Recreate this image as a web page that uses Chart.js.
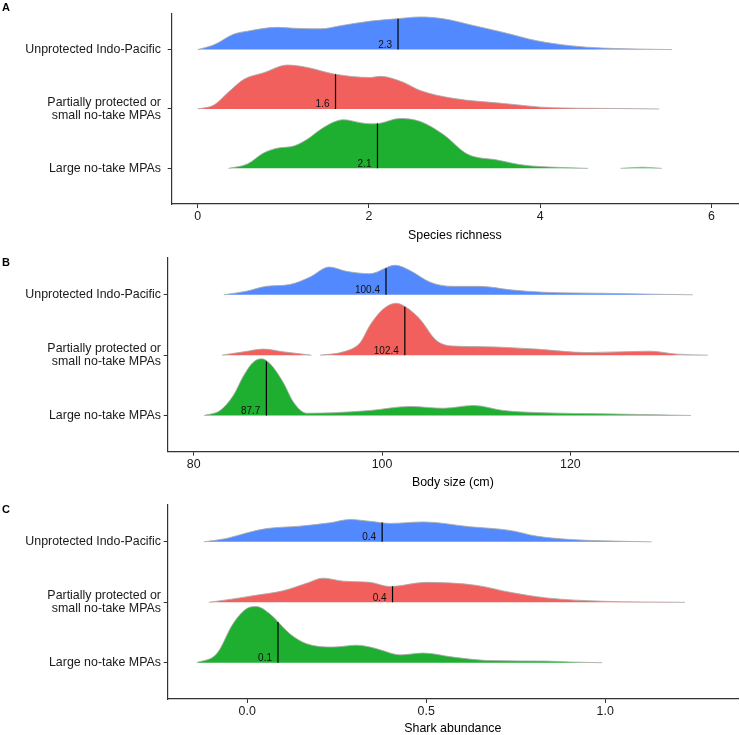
<!DOCTYPE html>
<html lang="en">
<head>
    <meta charset="UTF-8">
    <title>Shark ridgelines</title>
    <script src="https://cdn.jsdelivr.net/npm/chart.js"></script>
    <style>
        body { margin: 0; background: #fff; }
        #wrap { position: relative; width: 740px; height: 735px; overflow: hidden; }
        .panel { position: absolute; left: 0; }
        .tag { position: absolute; left: 2px; font: bold 11px/11px "Liberation Sans", Arial, sans-serif; color: #000; }
    </style>
</head>
<body>
<div id="wrap">
    <canvas id="chartA" class="panel" width="740" height="245" style="top:0px"></canvas>
    <canvas id="chartB" class="panel" width="740" height="245" style="top:245px"></canvas>
    <canvas id="chartC" class="panel" width="740" height="245" style="top:490px"></canvas>
    <div class="tag" style="top:2px">A</div>
    <div class="tag" style="top:257px">B</div>
    <div class="tag" style="top:504px">C</div>
</div>

<script>
// groups, top ridge first
const groups = [['Unprotected Indo-Pacific'], ['Partially protected or', 'small no-take MPAs'], ['Large no-take MPAs']];
const fills = ['#5289FF', '#F2605E', '#1EAF30'];

// A: species richness (x, ridge height in row units; null = gap)
const richX_unprot = [0, 0.19, 0.42, 0.58, 0.93, 1.12, 1.43, 1.70, 2.02, 2.33, 2.60, 2.87, 3.18, 3.57, 3.96, 4.35, 4.73, 5.13, 5.54];
const richH_unprot = [0, 0.08, 0.26, 0.31, 0.375, 0.36, 0.35, 0.41, 0.48, 0.52, 0.55, 0.52, 0.42, 0.29, 0.15, 0.066, 0.026, 0.01, 0];
const richX_part = [0, 0.19, 0.38, 0.54, 0.77, 1.05, 1.28, 1.59, 2.02, 2.13, 2.40, 2.60, 2.98, 3.57, 4.15, 4.73, 5.39];
const richH_part = [0, 0.066, 0.31, 0.50, 0.61, 0.74, 0.70, 0.59, 0.53, 0.55, 0.45, 0.31, 0.18, 0.094, 0.02, 0.01, 0];
const richX_large = [0.36, 0.58, 0.77, 0.93, 1.12, 1.28, 1.43, 1.59, 1.70, 1.90, 2.02, 2.13, 2.36, 2.60, 2.87, 3.15, 3.50, 3.80, 4.20, 4.56, 4.75, 4.94, 5.19, 5.42];
const richH_large = [0, 0.073, 0.26, 0.34, 0.375, 0.49, 0.65, 0.78, 0.82, 0.77, 0.75, 0.76, 0.84, 0.79, 0.57, 0.24, 0.14, 0.056, 0.017, 0, null, 0, 0.02, 0];
const richMedians = [2.34, 1.61, 2.10];
const richTicks = [0, 2, 4, 6];

// B: body size (cm)
const bodyX_unprot = [83.2, 85.6, 87.7, 90.2, 92.3, 94.4, 96.2, 98.7, 101.4, 103.0, 105.1, 107.5, 110.4, 113.6, 117.1, 123.5, 128.8, 133.0];
const bodyH_unprot = [0, 0.06, 0.14, 0.17, 0.29, 0.46, 0.39, 0.35, 0.49, 0.40, 0.21, 0.14, 0.14, 0.083, 0.043, 0.025, 0.01, 0];
const bodyX_part = [83.0, 85.3, 87.4, 89.5, 92.5, 93.0, 93.4, 95.9, 97.7, 98.7, 100.1, 101.5, 102.6, 104.0, 105.8, 107.6, 110.7, 116.4, 121.7, 128.4, 131.3, 134.6];
const bodyH_part = [0, 0.055, 0.10, 0.055, 0, null, 0, 0.055, 0.21, 0.49, 0.76, 0.86, 0.79, 0.60, 0.24, 0.15, 0.14, 0.10, 0.043, 0.066, 0.017, 0];
const bodyX_large = [81.1, 82.8, 84.2, 85.3, 86.3, 87.2, 88.1, 89.5, 90.6, 92.0, 94.8, 98.7, 103.0, 106.5, 109.7, 112.9, 117.1, 123.5, 132.8];
const bodyH_large = [0, 0.083, 0.33, 0.66, 0.88, 0.94, 0.86, 0.55, 0.22, 0.038, 0.045, 0.083, 0.15, 0.12, 0.166, 0.083, 0.045, 0.028, 0];
const bodyMedians = [100.42, 102.42, 87.72];
const bodyTicks = [80, 100, 120];

// C: shark abundance
const abunX_unprot = [-0.121, -0.058, 0.0, 0.054, 0.147, 0.231, 0.287, 0.343, 0.399, 0.492, 0.622, 0.734, 0.808, 0.901, 0.994, 1.13];
const abunH_unprot = [0, 0.056, 0.15, 0.22, 0.26, 0.315, 0.37, 0.34, 0.305, 0.33, 0.25, 0.19, 0.095, 0.04, 0.017, 0];
const abunX_part = [-0.107, -0.039, 0.017, 0.10, 0.166, 0.212, 0.268, 0.343, 0.399, 0.50, 0.641, 0.734, 0.836, 0.994, 1.223];
const abunH_part = [0, 0.056, 0.11, 0.19, 0.315, 0.40, 0.35, 0.33, 0.26, 0.33, 0.28, 0.166, 0.073, 0.017, 0];
const abunX_large = [-0.141, -0.085, -0.039, 0.0, 0.026, 0.063, 0.119, 0.166, 0.24, 0.306, 0.343, 0.371, 0.427, 0.492, 0.575, 0.669, 0.836, 0.901, 0.992];
const abunH_large = [0, 0.15, 0.65, 0.90, 0.93, 0.81, 0.48, 0.315, 0.26, 0.29, 0.26, 0.215, 0.13, 0.16, 0.093, 0.038, 0.027, 0.012, 0];
const abunMedians = [0.377, 0.406, 0.086];
const abunTicks = [0, 0.5, 1];

const FONT = '"Liberation Sans", Arial, Helvetica, sans-serif';

function interp(xs, hs, x) {
    for (let k = 0; k < xs.length - 1; k++) {
        if (hs[k] === null || hs[k + 1] === null) continue;
        if (x >= xs[k] && x <= xs[k + 1]) {
            const t = (x - xs[k]) / (xs[k + 1] - xs[k]);
            return hs[k] + t * (hs[k + 1] - hs[k]);
        }
    }
    return 0;
}

// median value printed left of each median line
const medianLabels = {
    id: 'medianLabels',
    afterDatasetsDraw(chart, args, opts) {
        const { ctx } = chart;
        const xs = chart.scales.x, ys = chart.scales.y;
        ctx.save();
        ctx.font = '10px ' + FONT;
        ctx.fillStyle = '#111';
        ctx.textAlign = 'right';
        ctx.textBaseline = 'alphabetic';
        opts.medians.forEach((m, i) => {
            const base = groups.length - i;
            ctx.fillText(m.toFixed(1), xs.getPixelForValue(m) - 6, ys.getPixelForValue(base) - 1.5);
        });
        ctx.restore();
    }
};

function makePanel(id, xList, hList, medians, ticks, fmt, xMin, xMax, title, lay) {
    const datasets = [];
    const n = groups.length;
    groups.forEach((g, i) => {
        const base = n - i;
        const xs = xList[i], hs = hList[i];
        // lower ridges are drawn on top (lower order = drawn later)
        const rank = n - 1 - i;
        datasets.push({
            data: xs.map((x, k) => ({ x: x, y: hs[k] === null ? null : base + hs[k] })),
            backgroundColor: fills[i],
            borderColor: 'rgba(170,170,170,0.85)',
            borderWidth: 1,
            fill: { value: base },
            pointRadius: 0,
            cubicInterpolationMode: 'monotone',
            spanGaps: false,
            order: 2 * rank + 1
        });
        const m = medians[i];
        datasets.push({
            data: [{ x: m, y: base }, { x: m, y: base + interp(xs, hs, m) }],
            borderColor: '#000',
            borderWidth: 1.2,
            fill: false,
            pointRadius: 0,
            order: 2 * rank
        });
    });

    new Chart(document.getElementById(id), {
        type: 'line',
        data: { datasets: datasets },
        plugins: [medianLabels],
        options: {
            responsive: false,
            animation: false,
            layout: { padding: { top: lay.top, right: 2, left: 0, bottom: 0 } },
            plugins: {
                legend: { display: false },
                tooltip: { enabled: false },
                medianLabels: { medians: medians }
            },
            scales: {
                x: {
                    type: 'linear',
                    min: xMin,
                    max: xMax,
                    afterBuildTicks: s => { s.ticks = ticks.map(v => ({ value: v })); },
                    afterFit: s => { s.height = lay.axisH; },
                    ticks: {
                        callback: v => fmt(v),
                        color: '#1a1a1a',
                        font: { family: FONT, size: 12.4 },
                        padding: 1,
                        maxRotation: 0
                    },
                    grid: { display: true, drawOnChartArea: false, drawTicks: true, tickLength: 4, color: '#333', lineWidth: 1 },
                    border: { display: true, color: '#333', width: 1.2 },
                    title: {
                        display: true,
                        text: title,
                        color: '#000',
                        font: { family: FONT, size: 12.4, lineHeight: 1 },
                        padding: { top: 0, bottom: lay.titlePad }
                    }
                },
                y: {
                    type: 'linear',
                    min: 0.4,
                    max: 3.61,
                    afterBuildTicks: s => { s.ticks = [1, 2, 3].map(v => ({ value: v })); },
                    afterFit: s => { s.width = lay.yW; },
                    ticks: {
                        callback: v => groups[n - v],
                        color: '#1a1a1a',
                        font: { family: FONT, size: 12.4, lineHeight: 1.08 },
                        padding: lay.yPad
                    },
                    grid: { display: true, drawOnChartArea: false, drawTicks: true, tickLength: 4, color: '#333', lineWidth: 1 },
                    border: { display: true, color: '#333', width: 1.2 }
                }
            }
        }
    });
}

makePanel('chartA', [richX_unprot, richX_part, richX_large], [richH_unprot, richH_part, richH_large],
    richMedians, richTicks, v => String(v), -0.303, 6.31, 'Species richness',
    { top: 10, axisH: 41, yW: 171.7, yPad: 6.7, titlePad: 3.7 });

makePanel('chartB', [bodyX_unprot, bodyX_part, bodyX_large], [bodyH_unprot, bodyH_part, bodyH_large],
    bodyMedians, bodyTicks, v => String(v), 77.24, 137.8, 'Body size (cm)',
    { top: 13, axisH: 38.3, yW: 167.7, yPad: 2.7, titlePad: 1.0 });

makePanel('chartC', [abunX_unprot, abunX_part, abunX_large], [abunH_unprot, abunH_part, abunH_large],
    abunMedians, abunTicks, v => v.toFixed(1), -0.222, 1.371, 'Shark abundance',
    { top: 15, axisH: 36, yW: 167.7, yPad: 2.7, titlePad: 0 });
</script>
</body>
</html>
